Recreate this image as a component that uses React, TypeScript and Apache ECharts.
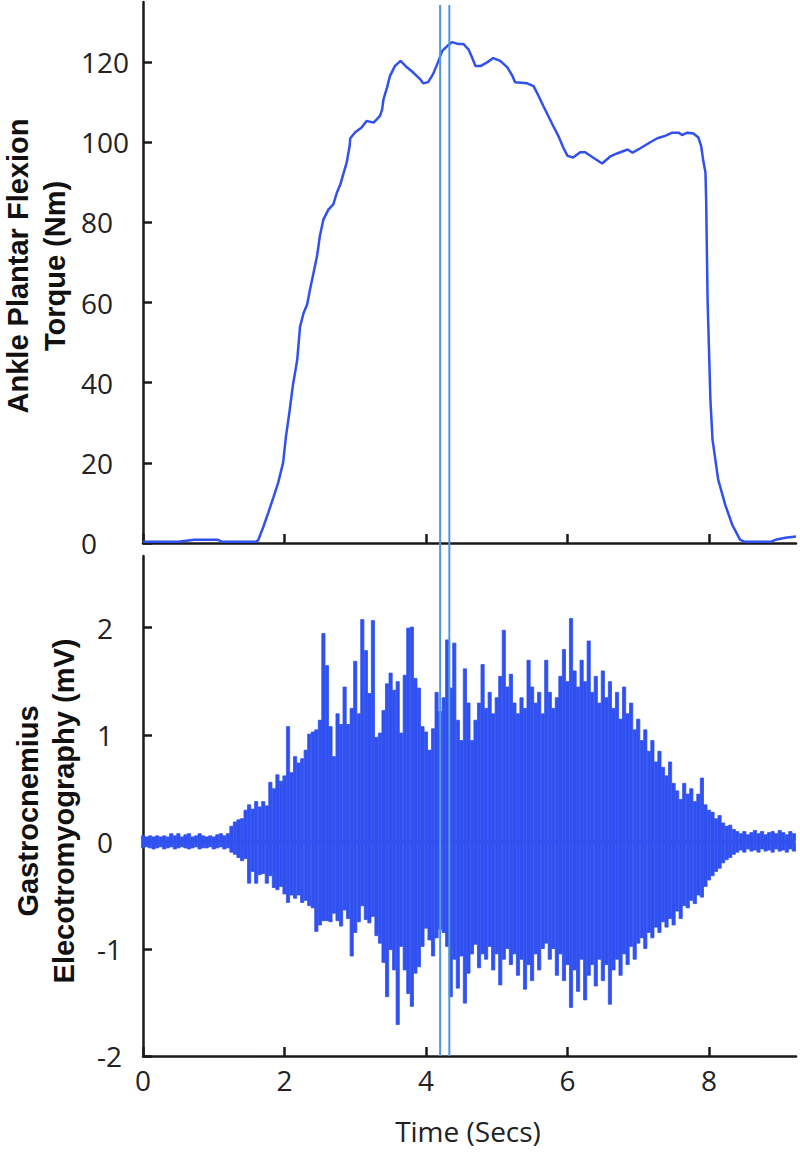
import { useEffect, useRef } from 'react';
import * as echarts from 'echarts';

// ---- Axis ticks ----
const timeTicks = [0, 2, 4, 6, 8];
const torqueTicks = [0, 20, 40, 60, 80, 100, 120];
const emgTicks = [-2, -1, 0, 1, 2];

// ---- Torque trace (Nm) ----
const torqueTime = [
  0, 0.5, 0.72, 1.06, 1.12, 1.6, 1.63, 1.7, 1.77, 1.84,
  1.91, 1.98, 2.02, 2.07, 2.12, 2.18, 2.22, 2.27, 2.32, 2.36,
  2.41, 2.46, 2.5, 2.55, 2.62, 2.69, 2.74, 2.79, 2.83, 2.88,
  2.92, 2.93, 3.0, 3.09, 3.16, 3.26, 3.35, 3.38, 3.4, 3.45,
  3.49, 3.56, 3.64, 3.73, 3.82, 3.92, 3.96, 4.03, 4.1, 4.17,
  4.23, 4.3, 4.37, 4.46, 4.53, 4.6, 4.65, 4.7, 4.77, 4.87,
  4.95, 5.05, 5.15, 5.22, 5.26, 5.43, 5.52, 5.59, 5.66, 5.73,
  5.8, 5.87, 5.94, 6.0, 6.08, 6.18, 6.25, 6.36, 6.49, 6.6,
  6.7, 6.85, 6.92, 7.03, 7.17, 7.27, 7.38, 7.48, 7.57, 7.62,
  7.69, 7.78, 7.85, 7.89, 7.92, 7.95, 7.96, 7.98, 8.02, 8.05,
  8.13, 8.23, 8.33, 8.44, 8.51, 8.87, 8.94, 9.08, 9.23,
];
const torqueValue = [
  0.3, 0.3, 0.8, 0.8, 0.3, 0.3, 0.75, 4, 7.5, 11.2,
  15, 20, 26.5, 32.7, 39.5, 45.7, 54, 57.4, 59.5, 63.2,
  67.4, 71.6, 76.6, 80.7, 83.2, 84.5, 87.4, 89.5, 92, 95,
  99, 101, 102.5, 103.7, 105.3, 104.9, 106.6, 108.2, 110.75, 113.7,
  116.5, 119, 120.3, 118.7, 117.4, 115.7, 114.7, 115, 117, 120,
  122.8, 124, 125, 124.5, 124.5, 123.2, 121.2, 119, 119, 120,
  121, 120.3, 118.7, 116.6, 115, 114.7, 114, 111.6, 109, 106.5,
  104, 101.6, 98.7, 96.6, 96.2, 97.5, 97.5, 96.2, 94.7, 96.4,
  97.2, 98.2, 97.4, 98.5, 100, 101, 101.6, 102.4, 102.4, 101.8,
  102.4, 102.2, 101.2, 99, 95.3, 92.5, 85.7, 60.8, 35.8, 25.8,
  15.8, 9.5, 4.5, 0.8, 0.3, 0.3, 0.8, 1.3, 1.6,
];

// ---- EMG (mV): positive and negative peak per 0.05 s bin ----
const emgStep = 0.05;
const emgUpper = [
  0.06, 0.05, 0.06, 0.05, 0.06, 0.05, 0.06, 0.05, 0.08, 0.06,
  0.08, 0.05, 0.07, 0.08, 0.05, 0.06, 0.08, 0.06, 0.05, 0.06,
  0.05, 0.07, 0.08, 0.06, 0.08,
  0.15, 0.19, 0.21, 0.22, 0.3, 0.35, 0.31, 0.38, 0.33, 0.38,
  0.34, 0.56, 0.5, 0.63, 0.57, 0.62, 1.08, 0.65, 0.8, 0.74,
  0.78, 0.86, 1.01, 1.03, 1.05, 1.14, 1.95, 1.65, 1.08, 0.8,
  1.2, 1.1, 1.45, 1.1, 1.25, 1.69, 1.2, 2.08, 1.79, 1.39,
  2.07, 0.98, 1.02, 1.23, 1.48, 1.58, 1.42, 1.5, 1.02, 1.56,
  2.0, 2.01, 1.53, 1.44, 1.08, 1.03, 0.86, 1.06, 1.4, 1.22,
  1.35, 1.89, 1.44, 1.86, 1.14, 0.95, 1.62, 1.3, 0.95,
  1.14, 1.3, 1.66, 1.25, 1.4, 1.2, 1.35, 1.55, 1.98, 1.45,
  1.57, 1.3, 1.2, 1.35, 1.25, 1.7, 1.45, 1.3, 1.4, 1.2,
  1.7, 1.4, 1.25, 1.35, 1.55, 1.8, 1.5, 2.09, 1.6, 1.45,
  1.7, 1.5, 1.88, 1.4, 1.55, 1.3, 1.6, 1.35, 1.5, 1.25,
  1.4, 1.15, 1.45, 1.2, 1.3, 1.05, 1.15, 0.95, 1.05, 0.85,
  0.95, 0.75, 0.85, 0.7, 0.62, 0.75, 0.55, 0.48, 0.4, 0.55,
  0.45, 0.5, 0.38, 0.45, 0.6, 0.35, 0.3, 0.28, 0.22, 0.25,
  0.18, 0.15, 0.16, 0.12, 0.1,
  0.08, 0.1, 0.07, 0.09, 0.11, 0.08, 0.1, 0.07, 0.09, 0.1,
  0.08, 0.11, 0.09, 0.07, 0.1, 0.08,
];
const emgLower = [
  -0.06, -0.05, -0.06, -0.07, -0.06, -0.05, -0.07, -0.06, -0.05, -0.07,
  -0.06, -0.05, -0.06, -0.07, -0.06, -0.05, -0.07, -0.06, -0.06, -0.05,
  -0.07, -0.06, -0.05, -0.07, -0.06,
  -0.1, -0.12, -0.15, -0.18, -0.16, -0.39, -0.28, -0.39, -0.31, -0.3,
  -0.39, -0.32, -0.43, -0.45, -0.42, -0.49, -0.57, -0.5, -0.53, -0.5,
  -0.57, -0.55, -0.6, -0.62, -0.84, -0.78, -0.74, -0.74, -0.75, -0.67,
  -0.74, -0.79, -0.64, -0.72, -1.07, -0.85, -0.75, -0.6, -0.73, -0.76,
  -0.7, -0.88, -0.95, -1.13, -1.45, -1.01, -1.2, -1.71, -0.98, -1.2,
  -1.42, -1.54, -1.23, -1.17, -0.98, -0.81, -0.92, -1.07, -0.9, -0.82,
  -0.85, -0.98, -1.45, -1.1, -1.37, -1.07, -1.51, -1.23, -1.05,
  -0.96, -1.18, -1.05, -1.1, -0.98, -1.2, -1.05, -1.34, -1.1, -1.0,
  -1.15, -1.05, -1.25, -1.1, -1.38, -1.15, -1.3, -1.05, -1.2, -1.0,
  -0.95, -1.1, -1.0, -1.25, -1.05, -1.3, -1.15, -1.55, -1.2, -1.4,
  -1.1, -1.48, -1.25, -1.15, -1.35, -1.1, -1.3, -1.15, -1.52, -1.2,
  -1.1, -1.25, -1.05, -1.15, -0.98, -1.1, -0.95, -0.9, -1.0, -0.85,
  -0.9, -0.8, -0.85, -0.75, -0.8, -0.72, -0.78, -0.65, -0.72, -0.6,
  -0.62, -0.55, -0.58, -0.5, -0.52, -0.42, -0.36, -0.32, -0.28, -0.25,
  -0.2, -0.17, -0.15, -0.12, -0.1,
  -0.08, -0.1, -0.07, -0.09, -0.08, -0.1, -0.07, -0.09, -0.08, -0.1,
  -0.07, -0.09, -0.08, -0.1, -0.07, -0.09,
];

// ---- Marker lines (s) ----
const markerTimes = [4.2, 4.33];

const TIME_MAX = 9.23;

export default function App() {
  const ref = useRef<HTMLDivElement>(null);

  useEffect(() => {
    if (!ref.current) return;
    const chart = echarts.init(ref.current, null, { renderer: 'svg' });

    const axisColor = '#1a1a1a';
    const traceColor = '#3050F0';
    const markerColor = '#4F97D8';
    const tickFont = '"Open Sans", "DejaVu Sans", sans-serif';
    const titleFont = '"Liberation Sans", Arial, sans-serif';

    const axisLine = { show: true, onZero: false, lineStyle: { color: axisColor, width: 2.5 } };
    const axisTick = (values: number[]) => ({
      show: true,
      inside: true,
      length: 9,
      customValues: values,
      lineStyle: { color: axisColor, width: 2.5 },
    });

    const torqueData = torqueTime.map((t, i) => [t, torqueValue[i]]);
    const upperData = emgUpper.map((v, i) => [i * emgStep, v]);
    const lowerData = emgLower.map((v, i) => [i * emgStep, v]);
    // zero line joining the positive and negative halves of the EMG trace
    const emgBaseline = [
      [0, 0],
      [(emgUpper.length - 1) * emgStep, 0],
    ];

    const markerSeries = markerTimes.map((t) => ({
      type: 'line',
      xAxisIndex: 2,
      yAxisIndex: 2,
      data: [
        [t, 0],
        [t, 1],
      ],
      symbol: 'none',
      silent: true,
      z: 10,
      lineStyle: { color: markerColor, width: 2 },
    }));

    const barStyle = { color: traceColor, borderColor: traceColor, borderWidth: 0.8 };

    chart.setOption({
      animation: false,
      backgroundColor: '#ffffff',
      grid: [
        { left: 143, right: 4, top: 2, height: 541 },
        { left: 143, right: 4, top: 556, height: 500 },
        { left: 143, right: 4, top: 5, height: 1051 },
      ],
      xAxis: [
        {
          gridIndex: 0,
          type: 'value',
          min: 0,
          max: TIME_MAX,
          interval: 2,
          axisLine,
          axisTick: axisTick(timeTicks),
          axisLabel: { show: false },
          splitLine: { show: false },
        },
        {
          gridIndex: 1,
          type: 'value',
          min: 0,
          max: TIME_MAX,
          interval: 2,
          axisLine,
          axisTick: axisTick(timeTicks),
          axisLabel: {
            show: true,
            margin: 10,
            customValues: timeTicks,
            fontFamily: tickFont,
            fontSize: 28,
            color: '#222',
          },
          splitLine: { show: false },
        },
        { gridIndex: 2, type: 'value', min: 0, max: TIME_MAX, show: false },
      ],
      yAxis: [
        {
          gridIndex: 0,
          type: 'value',
          min: 0,
          max: 135,
          interval: 20,
          axisLine,
          axisTick: axisTick(torqueTicks),
          axisLabel: {
            show: true,
            align: 'left',
            margin: 62,
            customValues: torqueTicks,
            fontFamily: tickFont,
            fontSize: 28,
            color: '#222',
          },
          splitLine: { show: false },
        },
        {
          gridIndex: 1,
          type: 'value',
          min: -2,
          max: 2.67,
          interval: 1,
          axisLine,
          axisTick: axisTick(emgTicks),
          axisLabel: {
            show: true,
            align: 'left',
            margin: 46,
            customValues: emgTicks,
            fontFamily: tickFont,
            fontSize: 28,
            color: '#222',
          },
          splitLine: { show: false },
        },
        { gridIndex: 2, type: 'value', min: 0, max: 1, show: false },
      ],
      series: [
        {
          type: 'line',
          xAxisIndex: 0,
          yAxisIndex: 0,
          data: torqueData,
          symbol: 'none',
          silent: true,
          lineStyle: { color: traceColor, width: 2.5 },
        },
        {
          type: 'bar',
          xAxisIndex: 1,
          yAxisIndex: 1,
          data: upperData,
          barWidth: 4,
          barGap: '-100%',
          silent: true,
          itemStyle: barStyle,
        },
        {
          type: 'bar',
          xAxisIndex: 1,
          yAxisIndex: 1,
          data: lowerData,
          barWidth: 4,
          barGap: '-100%',
          silent: true,
          itemStyle: barStyle,
        },
        {
          type: 'line',
          xAxisIndex: 1,
          yAxisIndex: 1,
          data: emgBaseline,
          symbol: 'none',
          silent: true,
          z: 3,
          lineStyle: { color: traceColor, width: 3 },
        },
        ...markerSeries,
      ],
      graphic: [
        {
          type: 'text',
          x: 36,
          y: 266,
          rotation: Math.PI / 2,
          silent: true,
          style: {
            text: 'Ankle Plantar Flexion\nTorque (Nm)',
            fontFamily: titleFont,
            fontWeight: 'bold',
            fontSize: 29,
            lineHeight: 37,
            fill: '#111',
            textAlign: 'center',
            textVerticalAlign: 'middle',
          },
        },
        {
          type: 'text',
          x: 46,
          y: 811,
          rotation: Math.PI / 2,
          silent: true,
          style: {
            text: 'Gastrocnemius\nElecotromyography (mV)',
            fontFamily: titleFont,
            fontWeight: 'bold',
            fontSize: 29,
            lineHeight: 36,
            fill: '#111',
            textAlign: 'center',
            textVerticalAlign: 'middle',
          },
        },
        {
          type: 'text',
          x: 468,
          y: 1131,
          silent: true,
          style: {
            text: 'Time (Secs)',
            fontFamily: tickFont,
            fontSize: 28,
            fill: '#222',
            textAlign: 'center',
            textVerticalAlign: 'middle',
          },
        },
      ],
    });

    return () => chart.dispose();
  }, []);

  return (
    <div
      ref={ref}
      style={{ position: 'absolute', left: 0, top: 0, width: 800, height: 1154 }}
    />
  );
}
